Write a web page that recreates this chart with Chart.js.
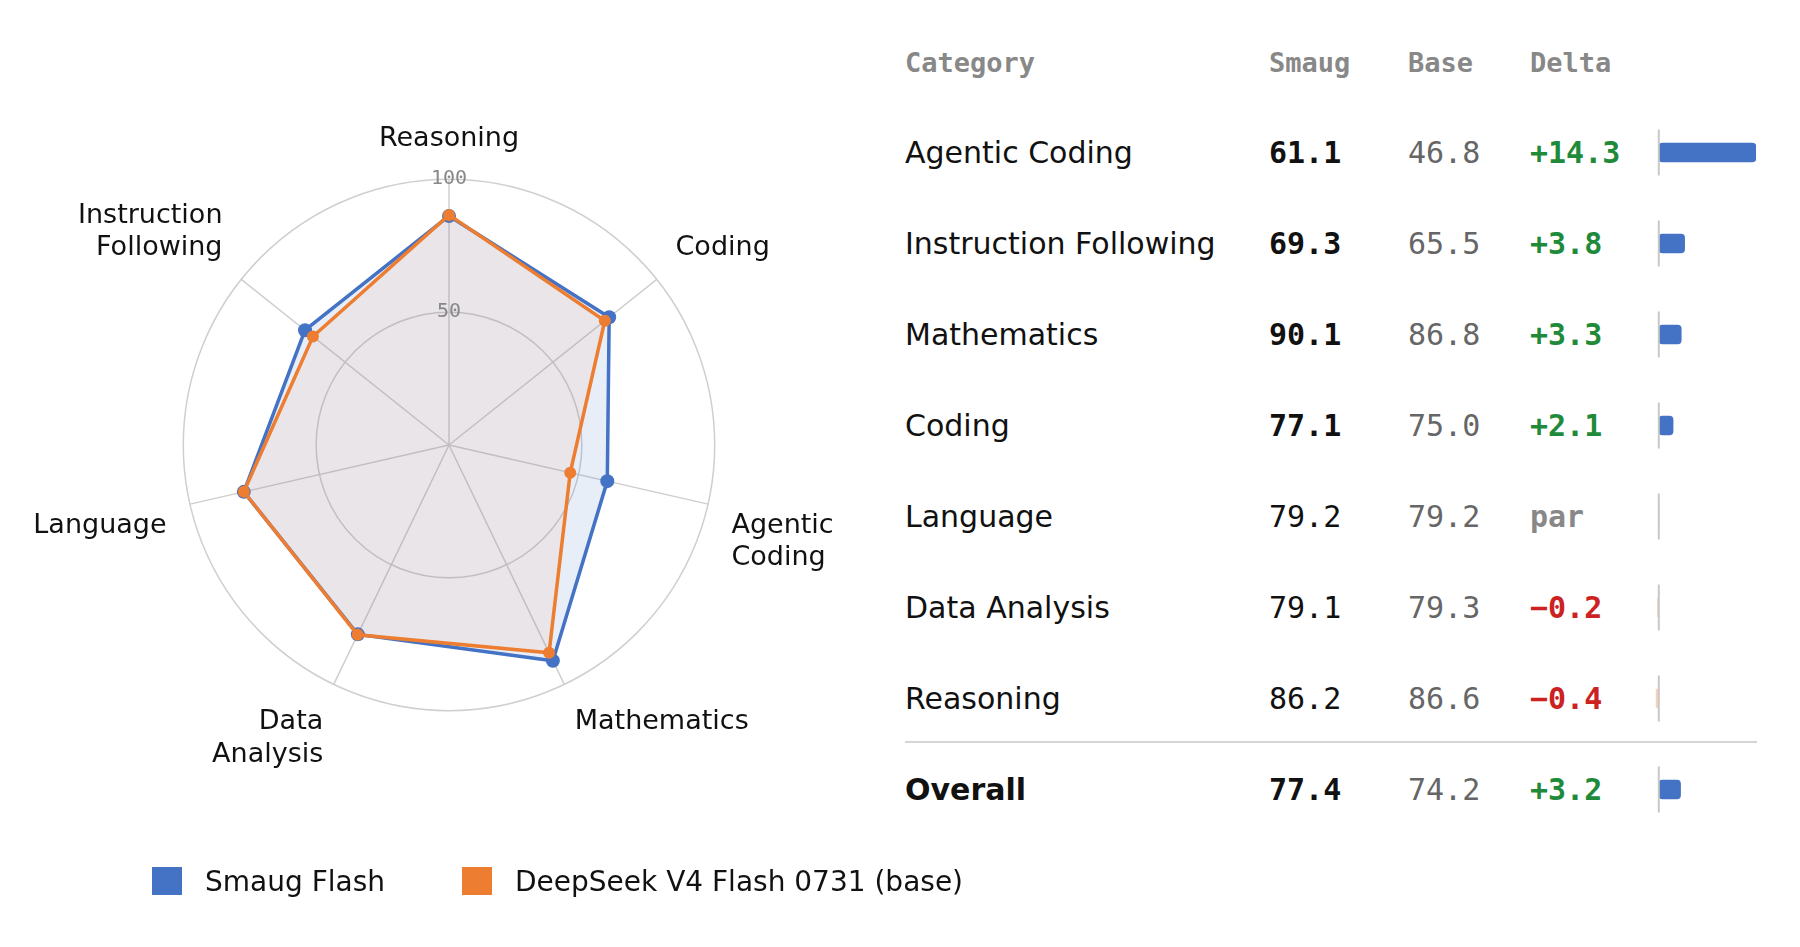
<!DOCTYPE html>
<html><head><meta charset="utf-8">
<script src="https://cdn.jsdelivr.net/npm/chart.js@4"></script>
<style>
body{margin:0;width:1800px;height:947px;background:#fff;font-family:"DejaVu Sans",sans-serif;position:relative;overflow:hidden}
#radarBox{position:absolute;left:-18px;top:-4px;width:904px;height:894px}
#deltaBox{position:absolute;left:1652px;top:107px;width:104px;height:728px}
.t{position:absolute;white-space:nowrap;transform:translateY(-50%)}
.hd{font-family:"DejaVu Sans Mono",monospace;font-weight:bold;color:#888;font-size:27px}
.cat{font-size:30px;color:#111;left:905px}
.num{font-family:"DejaVu Sans Mono",monospace;font-size:30px}
.leg{position:absolute;top:865px;font-size:28px;color:#111}
.sw{position:absolute;top:867px;width:30px;height:28px}
</style></head><body>
<div id="radarBox"><canvas id="radar"></canvas></div>
<div id="deltaBox"><canvas id="delta"></canvas></div>
<div id="table"></div>
<div class="sw" style="left:152px;background:#4472C4"></div><div class="leg" style="left:205px">Smaug Flash</div>
<div class="sw" style="left:462px;background:#ED7D31"></div><div class="leg" style="left:515px">DeepSeek V4 Flash 0731 (base)</div>
<script>
var AXES = [["Reasoning"],["Coding"],["Agentic","Coding"],["Mathematics"],["Data","Analysis"],["Language"],["Instruction","Following"]];
var SMAUG = [86.2, 77.1, 61.1, 90.1, 79.1, 79.2, 69.3];
var BASE = [86.6, 75.0, 46.8, 86.8, 79.3, 79.2, 65.5];
var ROWS = ["Agentic Coding","Instruction Following","Mathematics","Coding","Language","Data Analysis","Reasoning","Overall"];
var ROW_SMAUG = [61.1, 69.3, 90.1, 77.1, 79.2, 79.1, 86.2, 77.4];
var ROW_BASE = [46.8, 65.5, 86.8, 75.0, 79.2, 79.3, 86.6, 74.2];
var ROW_DELTA = [14.3, 3.8, 3.3, 2.1, 0, -0.2, -0.4, 3.2];
var BLUE = '#4472C4', ORANGE = '#ED7D31';

new Chart(document.getElementById('radar'), {
    type: 'radar',
    data: {
        labels: AXES,
        datasets: [
            {label: 'DeepSeek V4 Flash 0731 (base)', data: BASE, borderColor: ORANGE, backgroundColor: 'rgba(237,125,49,0.08)', borderWidth: 3.5, pointRadius: 6, pointBackgroundColor: ORANGE, pointBorderWidth: 0, fill: true},
            {label: 'Smaug Flash', data: SMAUG, borderColor: BLUE, backgroundColor: 'rgba(68,114,196,0.12)', borderWidth: 3.5, pointRadius: 7, pointBackgroundColor: BLUE, pointBorderWidth: 0, fill: true}
        ]
    },
    options: {
        responsive: true, maintainAspectRatio: false, animation: false,
        layout: {padding: 36},
        plugins: {legend: {display: false}, tooltip: {enabled: false}},
        scales: {r: {
            min: 0, max: 100,
            ticks: {stepSize: 50, showLabelBackdrop: false, color: '#888', font: {family: 'DejaVu Sans Mono', size: 20}, z: 1},
            grid: {color: '#cfcfcf', lineWidth: 1.5, circular: true},
            angleLines: {color: '#cfcfcf', lineWidth: 1.5},
            pointLabels: {color: '#111', font: {family: 'DejaVu Sans', size: 27}, padding: 12}
        }}
    }
});

// table text
var html = '';
var rowY = function(i) { return 152 + i * 91; };
html += '<div class="t hd" style="left:905px;top:62px">Category</div>';
html += '<div class="t hd" style="left:1269px;top:62px">Smaug</div>';
html += '<div class="t hd" style="left:1408px;top:62px">Base</div>';
html += '<div class="t hd" style="left:1530px;top:62px">Delta</div>';
ROWS.forEach(function(name, i) {
    var y = rowY(i), d = ROW_DELTA[i], big = d > 0.5;
    var last = i == ROWS.length - 1;
    html += '<div class="t cat" style="top:' + y + 'px;' + (last ? 'font-weight:bold' : '') + '">' + name + '</div>';
    html += '<div class="t num" style="left:1269px;top:' + y + 'px;color:#111;' + (big ? 'font-weight:bold' : '') + '">' + ROW_SMAUG[i].toFixed(1) + '</div>';
    html += '<div class="t num" style="left:1408px;top:' + y + 'px;color:#666">' + ROW_BASE[i].toFixed(1) + '</div>';
    var txt = d > 0 ? '+' + d.toFixed(1) : d < 0 ? '\u2212' + Math.abs(d).toFixed(1) : 'par';
    var col = d > 0 ? '#1e8a3a' : d < 0 ? '#cc2222' : '#888';
    html += '<div class="t num" style="left:1530px;top:' + y + 'px;font-weight:bold;color:' + col + '">' + txt + '</div>';
});
html += '<div style="position:absolute;left:905px;top:741px;width:852px;height:2px;background:#d5d5d5"></div>';
document.getElementById('table').innerHTML = html;

// zero tick per row
var zeroTicks = {
    id: 'zeroTicks',
    afterDatasetsDraw: function(chart) {
        var x = chart.scales.x.getPixelForValue(0), ys = chart.scales.y, ctx = chart.ctx;
        ctx.save(); ctx.strokeStyle = '#c8c8c8'; ctx.lineWidth = 2;
        ROWS.forEach(function(r, i) {
            var y = ys.getPixelForValue(i);
            ctx.beginPath(); ctx.moveTo(x, y - 23); ctx.lineTo(x, y + 23); ctx.stroke();
        });
        ctx.restore();
    }
};

new Chart(document.getElementById('delta'), {
    type: 'bar',
    data: {labels: ROWS, datasets: [{
        data: ROW_DELTA,
        backgroundColor: ROW_DELTA.map(function(d) { return d < 0 ? 'rgba(237,125,49,0.35)' : BLUE; }),
        borderRadius: 4, borderSkipped: false, barThickness: 19
    }]},
    options: {
        indexAxis: 'y', responsive: true, maintainAspectRatio: false, animation: false,
        layout: {padding: 0},
        plugins: {legend: {display: false}, tooltip: {enabled: false}},
        scales: {
            x: {display: false, min: -1, max: 14.3},
            y: {display: false}
        }
    },
    plugins: [zeroTicks]
});
</script>
</body></html>
